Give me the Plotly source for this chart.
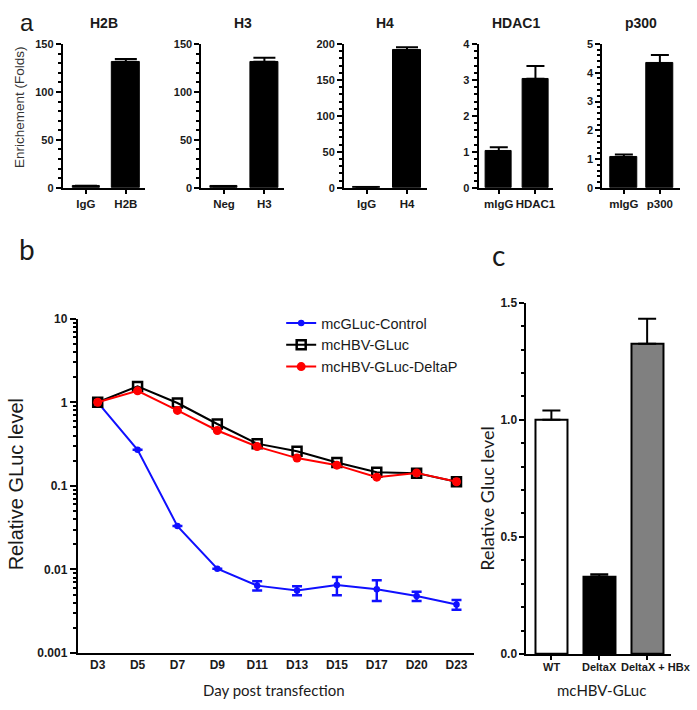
import plotly.graph_objects as go

W, H = 697, 710

# ---------------- Data ----------------
# Panel a
a_titles = ["H2B", "H3", "H4", "HDAC1", "p300"]
a_cats = [["IgG", "H2B"], ["Neg", "H3"], ["IgG", "H4"], ["mIgG", "HDAC1"], ["mIgG", "p300"]]
a_vals = [[2.0, 131.5], [1.5, 131.5], [1.0, 191.0], [1.02, 3.03], [1.07, 4.33]]
a_errs = [[0.3, 2.8], [0.3, 4.0], [0.3, 4.5], [0.11, 0.36], [0.09, 0.29]]
a_ymax = [150, 150, 200, 4, 5]
a_dtick = [50, 50, 50, 1, 1]
a_minor = [10, 10, 10, 0.2, 0.2]

# Panel b
days = ["D3", "D5", "D7", "D9", "D11", "D13", "D15", "D17", "D20", "D23"]
ctrl = [1.0, 0.27, 0.033, 0.0102, 0.0064, 0.0056, 0.0065, 0.0058, 0.0048, 0.0038]
ctrl_err = [0, 0, 0, 0, 0.0008, 0.0007, 0.0016, 0.0016, 0.0006, 0.0005]
hbv = [1.0, 1.55, 0.98, 0.55, 0.32, 0.26, 0.19, 0.146, 0.142, 0.112]
hbv_dp = [1.0, 1.37, 0.80, 0.46, 0.295, 0.215, 0.177, 0.127, 0.143, 0.112]
b_names = ["mcGLuc-Control", "mcHBV-GLuc", "mcHBV-GLuc-DeltaP"]
b_ticks = ["0.001", "0.01", "0.1", "1", "10"]

# Panel c
c_cats = ["WT", "DeltaX", "DeltaX + HBx"]
c_vals = [1.0, 0.331, 1.325]
c_errs = [0.04, 0.009, 0.107]
c_colors = ["white", "black", "#808080"]
c_ticks = ["0.0", "0.5", "1.0", "1.5"]

# ---------------- Layout helpers ----------------
def dx(l, r):
    return [l / W, r / W]

def dy(top, bottom):
    return [1 - bottom / H, 1 - top / H]

ARIAL = "Liberation Sans, Arial"
INK = "#1a1a1a"
BOLD = "<b>%s</b>"

fig = go.Figure()
layout = dict(
    width=W, height=H, margin=dict(l=0, r=0, t=0, b=0),
    paper_bgcolor="white", plot_bgcolor="white",
    showlegend=True, font=dict(family=ARIAL, color=INK),
    bargap=0,
)

a_dom_x = [(63, 145), (202, 285), (345, 428), (480, 555), (604, 682)]
a_rng_x = [(-0.58, 1.47), (-0.56, 1.49), (-0.56, 1.49), (-0.55, 1.49), (-0.6, 1.56)]
a_bw = [0.68, 0.68, 0.68, 0.72, 0.76]
a_capw = [11, 11, 11, 9, 9]

annotations = []
for i in range(5):
    n = i + 1
    xa = "x" if n == 1 else f"x{n}"
    ya = "y" if n == 1 else f"y{n}"
    fig.add_trace(go.Bar(
        x=[0, 1], y=a_vals[i], width=a_bw[i], xaxis=xa, yaxis=ya,
        marker=dict(color="black", line=dict(color="black", width=1)),
        error_y=dict(type="data", symmetric=False, array=a_errs[i], arrayminus=[0, 0],
                     color="black", thickness=2, width=a_capw[i]),
        showlegend=False, hoverinfo="skip",
    ))
    layout["xaxis" if n == 1 else f"xaxis{n}"] = dict(
        domain=dx(*a_dom_x[i]), anchor=ya, range=list(a_rng_x[i]),
        tickmode="array", tickvals=[0, 1], ticktext=[BOLD % t for t in a_cats[i]],
        ticks="outside", ticklen=4, tickwidth=2, tickcolor="black", tickangle=0,
        showline=True, linecolor="black", linewidth=2, showgrid=False, zeroline=False,
        tickfont=dict(family=ARIAL, size=11.5, color=INK), fixedrange=True,
    )
    layout["yaxis" if n == 1 else f"yaxis{n}"] = dict(
        domain=dy(37.7, 184.5), anchor=xa, range=[0, a_ymax[i]],
        tickmode="linear", tick0=0, dtick=a_dtick[i],
        tickprefix="<b>", ticksuffix="</b>",
        ticks="outside", ticklen=5, tickwidth=2, tickcolor="black",
        minor=dict(dtick=a_minor[i], tick0=0, ticks="outside", ticklen=3, tickwidth=1.5, tickcolor="black"),
        showline=True, linecolor="black", linewidth=2, showgrid=False, zeroline=False,
        tickfont=dict(family=ARIAL, size=11, color=INK), fixedrange=True,
    )
    cx = (a_dom_x[i][0] + a_dom_x[i][1]) / 2
    annotations.append(dict(text=BOLD % a_titles[i], x=cx / W, y=1 - 16 / H, xref="paper", yref="paper",
                            showarrow=False, xanchor="center", yanchor="middle",
                            font=dict(family=ARIAL, size=14, color=INK)))

# ---------------- Panel b ----------------
fig.add_trace(go.Scatter(
    x=days, y=ctrl, name=b_names[0], mode="lines+markers", xaxis="x6", yaxis="y6",
    line=dict(color="#1010ff", width=2),
    marker=dict(symbol="circle", size=6.5, color="#1010ff"),
    error_y=dict(type="data", array=ctrl_err, color="#1010ff", thickness=2.5, width=5),
))
fig.add_trace(go.Scatter(
    x=days, y=hbv, name=b_names[1], mode="lines+markers", xaxis="x6", yaxis="y6",
    line=dict(color="black", width=2),
    marker=dict(symbol="square-open", size=9, color="black", line=dict(width=2.5)),
))
fig.add_trace(go.Scatter(
    x=days, y=hbv_dp, name=b_names[2], mode="lines+markers", xaxis="x6", yaxis="y6",
    line=dict(color="#ff0000", width=2),
    marker=dict(symbol="circle", size=9, color="#ff0000"),
))
layout["xaxis6"] = dict(
    domain=dx(78, 475), anchor="y6", range=[-0.5, 9.43], type="category",
    tickmode="array", tickvals=days, ticktext=[BOLD % d for d in days],
    ticks="", showline=True, linecolor="black", linewidth=2, showgrid=False, zeroline=False,
    tickfont=dict(family=ARIAL, size=12, color=INK), fixedrange=True, tickangle=0,
)
layout["yaxis6"] = dict(
    domain=dy(318, 659), anchor="x6", type="log", range=[-3, 1],
    tickmode="array", tickvals=[float(t) for t in b_ticks],
    ticktext=[BOLD % t for t in b_ticks],
    ticks="outside", ticklen=6, tickwidth=2, tickcolor="black",
    minor=dict(dtick="D1", ticks="outside", ticklen=3, tickwidth=1.5, tickcolor="black", showgrid=False),
    showline=True, linecolor="black", linewidth=2, showgrid=False, zeroline=False,
    tickfont=dict(family=ARIAL, size=12, color=INK), fixedrange=True,
)
layout["legend"] = dict(
    x=282 / W, y=1 - 306 / H, xanchor="left", yanchor="top",
    font=dict(family=ARIAL, size=14.5, color=INK),
    bgcolor="rgba(0,0,0,0)", tracegroupgap=0, itemwidth=30,
)

# ---------------- Panel c ----------------
fig.add_trace(go.Bar(
    x=[0, 1, 2], y=c_vals, width=0.667, xaxis="x7", yaxis="y7",
    marker=dict(color=c_colors, line=dict(color="black", width=2)),
    error_y=dict(type="data", symmetric=False, array=c_errs, arrayminus=[0, 0, 0],
                 color="black", thickness=2, width=9),
    showlegend=False, hoverinfo="skip",
))
layout["xaxis7"] = dict(
    domain=dx(528, 673), anchor="y7", range=[-0.52, 2.5],
    tickmode="array", tickvals=[0, 1, 2], showticklabels=False,
    ticks="outside", ticklen=4, tickwidth=2, tickcolor="black",
    showline=True, linecolor="black", linewidth=2, showgrid=False, zeroline=False,
    fixedrange=True,
)
layout["yaxis7"] = dict(
    domain=dy(301.7, 660), anchor="x7", range=[0, 1.5],
    tickmode="array", tickvals=[float(t) for t in c_ticks],
    ticktext=[BOLD % t for t in c_ticks],
    ticks="outside", ticklen=5, tickwidth=2, tickcolor="black",
    minor=dict(dtick=0.1, tick0=0, ticks="outside", ticklen=3, tickwidth=1.5, tickcolor="black"),
    showline=True, linecolor="black", linewidth=2, showgrid=False, zeroline=False,
    tickfont=dict(family=ARIAL, size=12, color=INK), fixedrange=True,
)
# category labels of panel c (crowded: the last one is right-aligned to the figure edge)
CFONT = dict(family=ARIAL, size=11, color=INK)
for i, cat in enumerate(c_cats[:2]):
    annotations.append(dict(text=BOLD % cat, x=i, y=1 - 673 / H, xref="x7", yref="paper",
                            xshift=0, showarrow=False, xanchor="center", yanchor="middle",
                            font=CFONT))
annotations.append(dict(text=BOLD % c_cats[2], x=695 / W, y=1 - 673 / H, xref="paper", yref="paper",
                        showarrow=False, xanchor="right", yanchor="middle", font=CFONT))

# ---------------- Text ----------------
def ann(text, x, y, size, family=ARIAL, angle=0, color=INK, yanchor="middle"):
    annotations.append(dict(text=text, x=x / W, y=1 - y / H, xref="paper", yref="paper",
                            showarrow=False, xanchor="center", yanchor=yanchor, textangle=angle,
                            font=dict(family=family, size=size, color=color)))

ann("a", 27, 0, 24, family=ARIAL, yanchor="top")
ann("b", 27, 247, 28, family="Lato")
ann("c", 500, 253, 28, family="Lato")
ann("Enrichement (Folds)", 20, 102, 13.5, color="#333333", angle=-90)
ann("Relative GLuc level", 16, 487, 20, angle=-90)
ann("Day post transfection", 275, 697, 15, family="Lato")
ann("Relative Gluc level", 489, 502, 18, family="Lato", angle=-90)
ann("mcHBV-GLuc", 603, 697, 15, family="Lato")

layout["annotations"] = annotations
fig.update_layout(**layout)
fig.write_html("out.html", config={"displayModeBar": False},
               post_script="document.body.style.margin='0px';")
